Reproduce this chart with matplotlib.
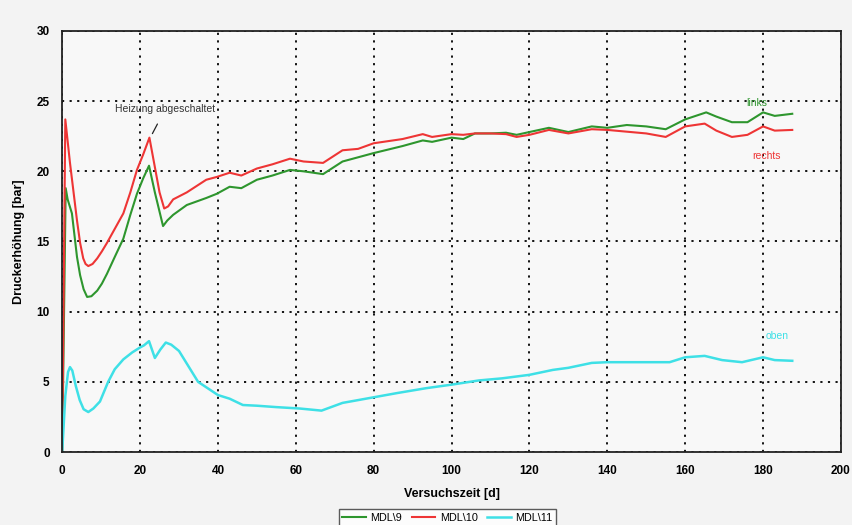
import matplotlib.pyplot as plt

plt.rcParams['font.family'] = ['Liberation Sans', 'DejaVu Sans']

# MDL\9 (links)
tage9 = [0, 0.9, 1.4, 2.5, 3.8, 4.6, 5.5, 6.4, 7.5, 9, 10.2, 11.5, 13.5, 15.7, 17.5, 19.2, 20.8, 22.3,
         23.8, 25.9, 27, 28.5, 32, 37, 39.7, 43, 46, 50, 54, 58.5, 62, 67, 72, 76, 80, 87.4,
         92.6, 95, 100, 103, 106, 110, 114, 116.7, 120, 125, 130, 136, 140, 145, 150, 155, 160,
         165.4, 168, 172, 176, 180, 183, 187.5]
mdl9 = [0, 18.8, 18.0, 17.0, 13.9, 12.6, 11.6, 11.05, 11.1, 11.5, 12.0, 12.7, 13.9, 15.2, 16.9, 18.4, 19.5, 20.4,
        18.5, 16.1, 16.5, 16.9, 17.6, 18.1, 18.4, 18.9, 18.8, 19.4, 19.7, 20.1, 20.0, 19.8, 20.7, 21.0, 21.3, 21.8,
        22.2, 22.1, 22.4, 22.3, 22.7, 22.7, 22.75, 22.6, 22.8, 23.1, 22.8, 23.2, 23.1, 23.3, 23.2, 23.0, 23.7,
        24.2, 23.9, 23.5, 23.5, 24.2, 23.95, 24.1]

# MDL\10 (rechts)
tage10 = [0, 0.8, 2, 3.8, 4.6, 5.4, 6.0, 6.7, 7.8, 9, 10.2, 11.5, 13.5, 15.7, 17.5, 19.2, 20.8, 22.4,
          23.8, 25, 26.2, 27.2, 28.5, 32, 37, 39.7, 43, 46, 50, 54, 58.5, 62, 67, 72, 76, 80, 87.4,
          92.6, 95, 100, 103, 106, 110, 114, 116.7, 120, 125, 130, 136, 140, 146, 150, 155, 160,
          165, 168, 172, 176, 180, 183, 187.5]
mdl10 = [0, 23.7, 20.6, 16.5, 14.9, 13.8, 13.4, 13.25, 13.4, 13.8, 14.3, 14.9, 15.9, 17.0, 18.5, 20.1, 21.2, 22.4,
         20.3, 18.5, 17.35, 17.5, 18.0, 18.5, 19.4, 19.6, 19.9, 19.7, 20.2, 20.5, 20.9, 20.7, 20.6, 21.5, 21.6, 22.0, 22.3,
         22.65, 22.45, 22.65, 22.6, 22.7, 22.7, 22.65, 22.45, 22.6, 22.95, 22.7, 23.0, 22.95, 22.8, 22.7, 22.45, 23.2,
         23.4, 22.9, 22.45, 22.6, 23.2, 22.9, 22.95]

# MDL\11 (oben)
tage11 = [0, 0.8, 1.5, 2, 2.6, 3.5, 4.5, 5.5, 6.7, 8, 9.7, 11.8, 13.5, 15.7, 18, 20, 21, 22.3,
          23.8, 25.2, 26.6, 28, 30, 34.9, 40, 43, 46.4, 50, 55, 61, 66.6, 72, 80, 86, 93.5,
          100, 107, 113, 120, 126, 130, 136, 140, 148, 156, 160, 165, 169.5, 174.6, 180, 183, 187.5]
mdl11 = [0, 4.0, 5.7, 6.05, 5.8, 4.7, 3.7, 3.05, 2.85, 3.1, 3.6, 5.0, 5.9, 6.6, 7.1, 7.45, 7.6, 7.9,
         6.7, 7.3, 7.8, 7.65, 7.2, 5.0, 4.06, 3.8, 3.35, 3.3, 3.2, 3.1, 2.95, 3.5, 3.9, 4.2, 4.55,
         4.8, 5.1, 5.25, 5.5, 5.85, 6.0, 6.35, 6.4, 6.4, 6.4, 6.75, 6.85, 6.55, 6.4, 6.75, 6.55, 6.5]

gruen = '#2e962e'
rot = '#ee3535'
cyan = '#3ee0e6'

fig = plt.figure(figsize=(8.52, 5.25), dpi=100, facecolor='#f3f3f3')
ax = fig.add_axes([0.073, 0.139, 0.914, 0.802])
ax.set_facecolor('#f8f8f8')

ax.plot(tage9, mdl9, color=gruen, lw=1.5, label='MDL\\9')
ax.plot(tage10, mdl10, color=rot, lw=1.5, label='MDL\\10')
ax.plot(tage11, mdl11, color=cyan, lw=1.8, label='MDL\\11')

ax.set_xlim(0, 200)
ax.set_ylim(0, 30)
ax.set_xticks(range(0, 201, 20))
ax.set_yticks(range(0, 31, 5))
ax.grid(True, color='black', linestyle=(0, (1.2, 3)), linewidth=1.3)
ax.tick_params(length=0, pad=9, labelsize=8.5)
for t in ax.get_xticklabels() + ax.get_yticklabels():
    t.set_fontweight('bold')
for s in ax.spines.values():
    s.set_linewidth(1.3)
    s.set_color('#222222')

ax.set_xlabel('Versuchszeit [d]', fontsize=9, fontweight='bold', labelpad=8)
ax.set_ylabel('Druckerhöhung [bar]', fontsize=9, fontweight='bold', labelpad=8)

# Beschriftungen
ax.text(178.5, 24.9, 'links', color=gruen, fontsize=7.5, ha='center', va='center')
ax.text(181, 21.1, 'rechts', color=rot, fontsize=7.5, ha='center', va='center')
ax.text(183.5, 8.3, 'oben', color=cyan, fontsize=7.5, ha='center', va='center')
ax.annotate('Heizung abgeschaltet', xy=(23.0, 22.6), xytext=(26.5, 24.45),
            fontsize=7.5, color='#333333', ha='center', va='center',
            arrowprops=dict(arrowstyle='-', color='#222222', lw=0.9, shrinkA=6, shrinkB=1))

fig.legend(loc='lower center', bbox_to_anchor=(0.525, -0.012), ncol=3, fontsize=7.8,
           frameon=True, fancybox=False, edgecolor='#333333', handlelength=2.2,
           columnspacing=0.9, handletextpad=0.4, borderpad=0.3)

fig.savefig('out.png', dpi=100, facecolor=fig.get_facecolor())
